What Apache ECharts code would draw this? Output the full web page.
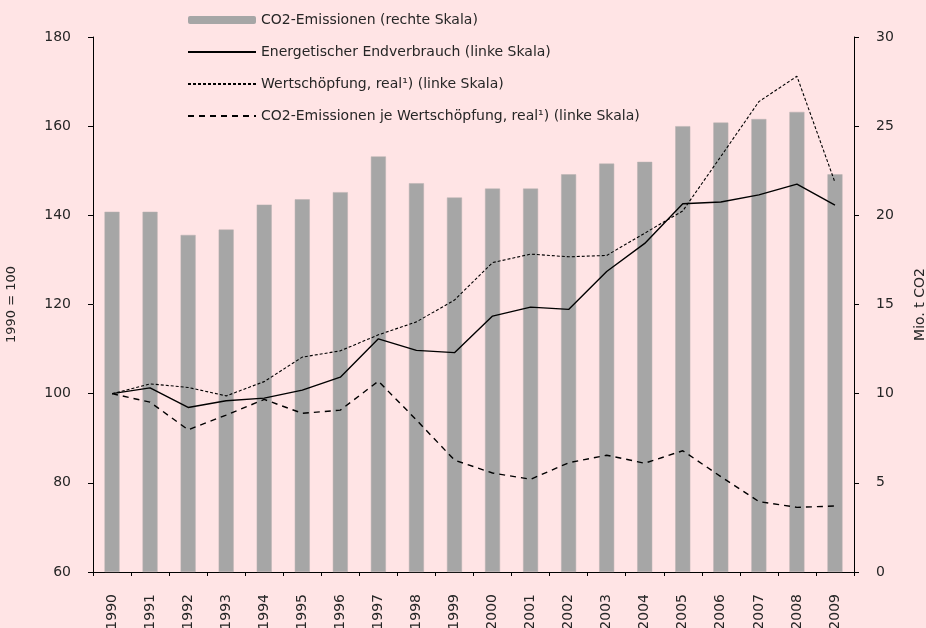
<!DOCTYPE html>
<html>
<head>
<meta charset="utf-8">
<title>CO2-Emissionen</title>
<script src="https://cdn.jsdelivr.net/npm/echarts@6/dist/echarts.min.js"></script>
<style>
  html, body { margin: 0; padding: 0; background: #ffe4e5; }
  #chart { width: 926px; height: 628px; }
</style>
</head>
<body>
<div id="chart"></div>
<script>
const years = ['1990', '1991', '1992', '1993', '1994', '1995', '1996', '1997', '1998', '1999',
  '2000', '2001', '2002', '2003', '2004', '2005', '2006', '2007', '2008', '2009']

// Mio. t CO2 (rechte Skala)
const co2Emissionen = [20.2, 20.2, 18.9, 19.2, 20.6, 20.9, 21.3, 23.3, 21.8, 21.0,
  21.5, 21.5, 22.3, 22.9, 23.0, 25.0, 25.2, 25.4, 25.8, 22.3]

// 1990 = 100 (linke Skala)
const endverbrauch = [100, 101.3, 96.9, 98.4, 99.0, 100.8, 103.7, 112.3, 109.7, 109.2,
  117.4, 119.4, 118.9, 127.4, 133.7, 142.6, 143.0, 144.6, 147.0, 142.3]
const wertschoepfung = [100, 102.2, 101.4, 99.5, 102.7, 108.2, 109.6, 113.2, 116.1, 121.0,
  129.4, 131.3, 130.7, 131.0, 136.0, 141.0, 153.2, 165.5, 171.2, 147.4]
const co2JeWertschoepfung = [100, 98.1, 91.9, 95.2, 98.7, 95.6, 96.3, 102.8, 94.1, 85.1,
  82.2, 80.8, 84.5, 86.2, 84.4, 87.2, 81.4, 75.8, 74.5, 74.8]

const names = [
  'CO2-Emissionen (rechte Skala)',
  'Energetischer Endverbrauch (linke Skala)',
  'Wertschöpfung, real¹) (linke Skala)',
  'CO2-Emissionen je Wertschöpfung, real¹) (linke Skala)'
]

const font = 'DejaVu Sans'
const textColor = '#262626'
// hide the circle ECharts puts on line legend icons
const noSymbol = { color: 'transparent', borderColor: 'transparent', borderWidth: 0 }

const chart = echarts.init(document.getElementById('chart'))
chart.setOption({
  backgroundColor: '#ffe4e5',
  animation: false,
  textStyle: { fontFamily: font, color: textColor },
  legend: {
    orient: 'vertical',
    left: 182,
    top: 8,
    itemWidth: 68,
    itemHeight: 8,
    itemGap: 18,
    textStyle: { fontFamily: font, fontSize: 14, color: textColor },
    data: [
      { name: names[0], itemStyle: { borderWidth: 0 } },
      { name: names[1], itemStyle: noSymbol },
      { name: names[2], itemStyle: noSymbol },
      { name: names[3], itemStyle: noSymbol }
    ]
  },
  grid: {
    left: 93,
    right: 72,
    top: 37,
    bottom: 56,
    containLabel: false,
    outerBoundsMode: 'none'
  },
  xAxis: {
    type: 'category',
    data: years,
    boundaryGap: true,
    axisLine: { lineStyle: { color: '#000', width: 1 } },
    axisTick: { show: true, interval: 0, length: 4, lineStyle: { color: '#000' } },
    axisLabel: {
      interval: 0,
      rotate: 90,
      margin: 22,
      fontSize: 14,
      color: textColor,
      fontFamily: font
    }
  },
  yAxis: [
    {
      type: 'value',
      min: 60,
      max: 180,
      interval: 20,
      name: '1990 = 100',
      nameLocation: 'middle',
      nameRotate: 90,
      nameGap: 75,
      nameTextStyle: { fontSize: 13, color: textColor, fontFamily: font },
      axisLine: { show: true, lineStyle: { color: '#000', width: 1 } },
      axisTick: { show: true, length: 5, lineStyle: { color: '#000' } },
      axisLabel: { margin: 22, fontSize: 14, color: textColor, fontFamily: font },
      splitLine: { show: false }
    },
    {
      type: 'value',
      position: 'right',
      min: 0,
      max: 30,
      interval: 5,
      name: 'Mio. t CO2',
      nameLocation: 'middle',
      nameRotate: 90,
      nameGap: 59,
      nameTextStyle: { fontSize: 14, color: textColor, fontFamily: font },
      axisLine: { show: true, lineStyle: { color: '#000', width: 1 } },
      axisTick: { show: true, length: 5, lineStyle: { color: '#000' } },
      axisLabel: { margin: 22, fontSize: 14, color: textColor, fontFamily: font },
      splitLine: { show: false }
    }
  ],
  series: [
    {
      name: names[0],
      type: 'bar',
      yAxisIndex: 1,
      barWidth: 15,
      itemStyle: { color: '#a6a6a6', borderColor: '#b9b0b0', borderWidth: 0.5 },
      data: co2Emissionen,
      z: 1
    },
    {
      name: names[1],
      type: 'line',
      yAxisIndex: 0,
      symbol: 'none',
      lineStyle: { color: '#000', width: 1.4, type: 'solid' },
      itemStyle: { color: '#000' },
      data: endverbrauch,
      z: 3
    },
    {
      name: names[2],
      type: 'line',
      yAxisIndex: 0,
      symbol: 'none',
      lineStyle: { color: '#000', width: 1.1, type: [3, 2] },
      itemStyle: { color: '#000' },
      data: wertschoepfung,
      z: 3
    },
    {
      name: names[3],
      type: 'line',
      yAxisIndex: 0,
      symbol: 'none',
      lineStyle: { color: '#000', width: 1.4, type: [6, 5] },
      itemStyle: { color: '#000' },
      data: co2JeWertschoepfung,
      z: 3
    }
  ]
})
</script>
</body>
</html>
